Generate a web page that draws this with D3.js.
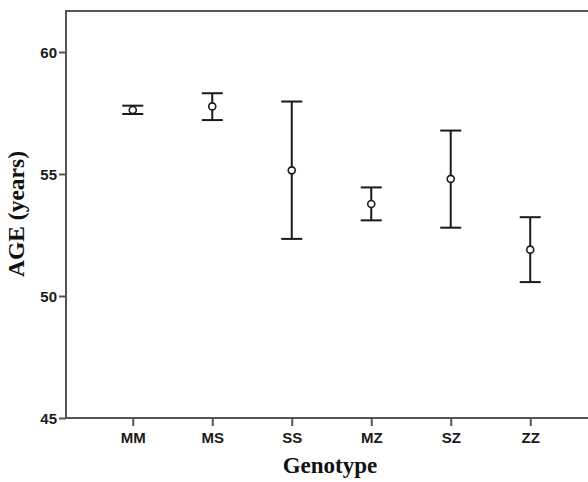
<!DOCTYPE html>
<html><head><meta charset="utf-8">
<script src="https://cdn.jsdelivr.net/npm/d3@7"></script>
<style>html,body{margin:0;padding:0;background:#fff;overflow:hidden}svg{display:block}</style>
</head><body>
<svg id="chart" width="588" height="482"></svg>
<script>
const categories = ["MM", "MS", "SS", "MZ", "SZ", "ZZ"];
const means = [57.62, 57.77, 55.15, 53.77, 54.80, 51.90];
const upper = [57.80, 58.31, 57.97, 54.45, 56.78, 53.23];
const lower = [57.46, 57.21, 52.34, 53.10, 52.80, 50.57];
const yTicks = [45, 50, 55, 60];
const yTitle = "AGE (years)";
const xTitle = "Genotype";

const svg = d3.select("#chart");
const W = 588;
const mLeft = 66, mRight = 597, mTop = 11, mBottom = 418;

const y = d3.scaleLinear().domain([45, 60]).range([mBottom, 52]);
const x = d3.scalePoint().domain(categories).range([mLeft, mRight]).padding(0.84);

const axisColor = "#555";

// frame top line
svg.append("line").attr("x1", mLeft).attr("x2", W).attr("y1", mTop).attr("y2", mTop)
  .attr("stroke", axisColor).attr("stroke-width", 2);

const yAxis = svg.append("g").attr("transform", `translate(${mLeft},0)`)
  .call(d3.axisLeft(y).tickValues(yTicks).tickSize(7).tickPadding(2).tickFormat(d3.format("d")));
yAxis.select(".domain").remove();
yAxis.append("line").attr("x1", 0).attr("x2", 0).attr("y1", mTop - 1).attr("y2", mBottom)
  .attr("stroke", axisColor).attr("stroke-width", 2);

const xAxis = svg.append("g").attr("transform", `translate(0,${mBottom})`)
  .call(d3.axisBottom(x).tickSize(8).tickPadding(6));
xAxis.select(".domain").remove();
xAxis.append("line").attr("x1", mLeft - 1).attr("x2", W).attr("y1", 0).attr("y2", 0)
  .attr("stroke", axisColor).attr("stroke-width", 2);

svg.selectAll(".tick line").attr("stroke", axisColor).attr("stroke-width", 2);
svg.selectAll(".tick text").attr("fill", "#1a1a1a")
  .style("font-family", "'Liberation Sans', Arial, sans-serif")
  .style("font-weight", "bold").style("font-size", "15px");
yAxis.selectAll(".tick text").attr("dy", "0.36em");

// error bars
const eb = svg.append("g");
const capW = 21;
categories.forEach((c, i) => {
  const cx = x(c);
  eb.append("line").attr("x1", cx).attr("x2", cx).attr("y1", y(upper[i])).attr("y2", y(lower[i]))
    .attr("stroke", "#1a1a1a").attr("stroke-width", 2);
  [upper[i], lower[i]].forEach(v => {
    eb.append("line").attr("x1", cx - capW / 2).attr("x2", cx + capW / 2)
      .attr("y1", y(v)).attr("y2", y(v)).attr("stroke", "#1a1a1a").attr("stroke-width", 2);
  });
  eb.append("circle").attr("cx", cx).attr("cy", y(means[i])).attr("r", 3.5)
    .attr("fill", "#fff").attr("stroke", "#1a1a1a").attr("stroke-width", 1.6);
});

// titles
svg.append("text").attr("x", 330).attr("y", 473).attr("text-anchor", "middle")
  .style("font-family", "'Liberation Serif', 'Times New Roman', serif")
  .style("font-weight", "bold").style("font-size", "23px").attr("fill", "#111").text(xTitle);
svg.append("text").attr("transform", "translate(24,214) rotate(-90)").attr("text-anchor", "middle")
  .style("font-family", "'Liberation Serif', 'Times New Roman', serif")
  .style("font-weight", "bold").style("font-size", "23.5px").attr("fill", "#111").text(yTitle);
</script>
</body></html>
